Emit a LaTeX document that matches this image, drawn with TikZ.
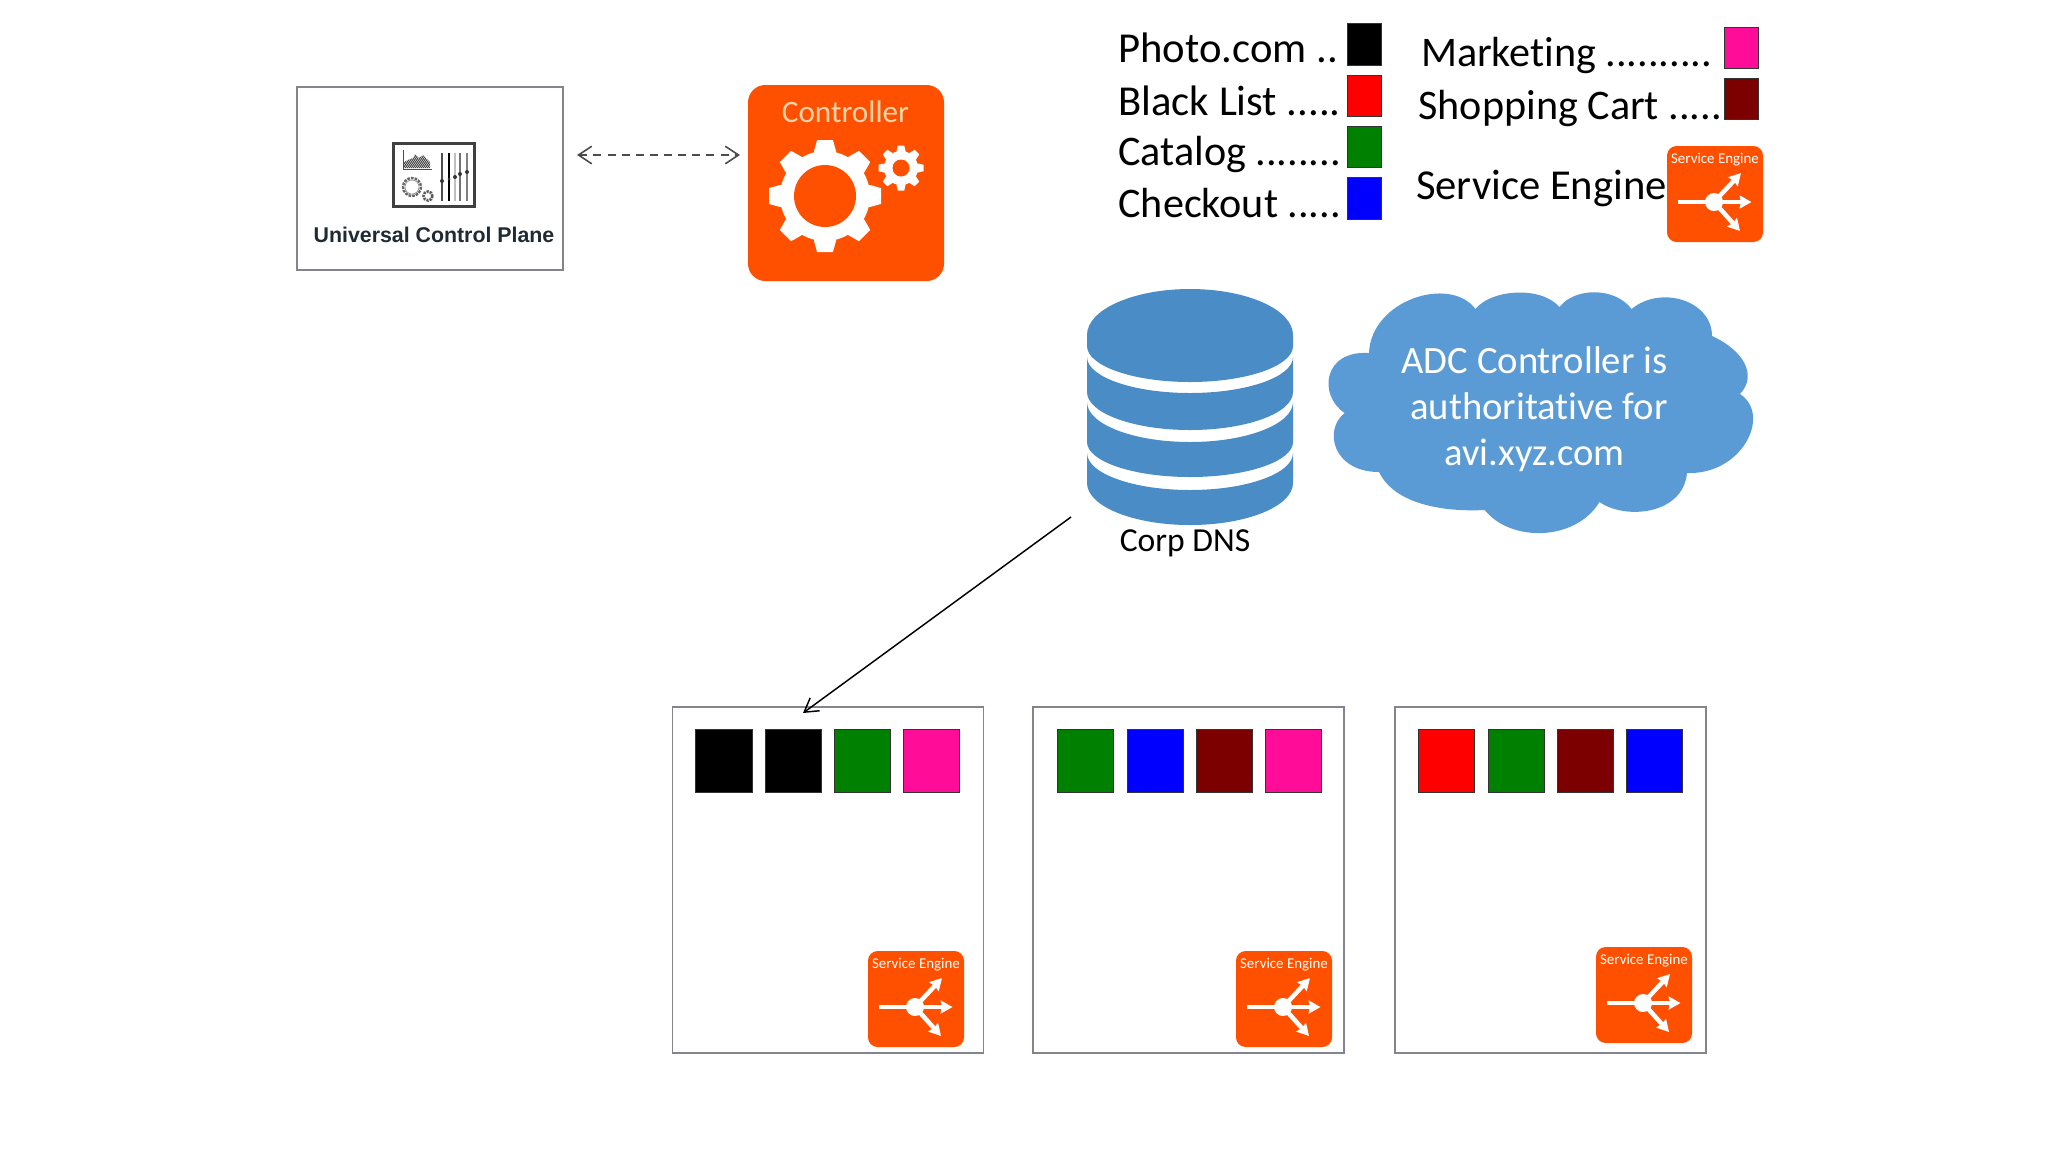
\documentclass[tikz,border=0pt]{standalone}
\usepackage{fontspec}
\setmainfont{Carlito}[Ligatures=NoCommon]
\newfontfamily\ucpfont{Liberation Sans}
\usetikzlibrary{arrows.meta,calc}
\definecolor{seorange}{HTML}{FF5000}
\definecolor{boxgray}{HTML}{84848E}
\definecolor{dnsblue}{HTML}{4A8CC6}
\definecolor{cloudblue}{HTML}{5B9BD5}
\definecolor{cgreen}{HTML}{008000}
\definecolor{cblue}{HTML}{0000FF}
\definecolor{cred}{HTML}{FF0000}
\definecolor{cmaroon}{HTML}{7D0000}
\definecolor{cpink}{HTML}{FF0C98}
\definecolor{ucpink}{HTML}{1F2A33}
\definecolor{ctrltext}{HTML}{FFD2A6}
% rectangular node from pixel corners: name, x0, y0, x1, y1, style
\newcommand{\pxnode}[6]{\node[#6,minimum width={(#4-#2)*0.375pt},minimum height={(#5-#3)*0.375pt}] (#1) at ({(#2+#4)/2},{(#3+#5)/2}) {};}
% gear: cx, cy, body radius, tip radius, tooth width, hole radius
\newcommand{\gearshape}[6]{%
  \foreach \a in {0,45,...,315}{
    \fill[white,rotate around={\a:(#1,#2)}] ({#1-#5/2},{#2}) -- ({#1-#5/2},{#2-#3}) -- ({#1-#5*0.36},{#2-#4}) -- ({#1+#5*0.36},{#2-#4}) -- ({#1+#5/2},{#2-#3}) -- ({#1+#5/2},{#2}) -- cycle;
  }
  \fill[white] (#1,#2) circle (#3);
  \fill[seorange] (#1,#2) circle (#6);
}
\tikzset{
  x=0.375pt,y=-0.375pt,
  base/.style={inner sep=0pt,outer sep=0pt},
  plainbox/.style={base,draw=boxgray,line width=0.5pt,fill=white},
  swatch/.style={base,draw=black!80,line width=0.3pt,fill=#1},
  ltext/.style={base,anchor=base west,font=\fontsize{15.8}{18}\selectfont},
  ltextb/.style={base,anchor=base west,font=\fontsize{16}{18}\selectfont},
  sebg/.style={base,fill=seorange,rounded corners=3.6pt,minimum width=36pt,minimum height=36pt},
  searrow/.style={white,line width=1.7pt,-{Stealth[length=4.4pt,width=4.8pt,inset=0.4pt]}},
  seicon/.pic={
    \node[sebg] (-bg) at (48,48) {};
    \node[base,anchor=base,text=white,font=\fontsize{5.6}{6}\selectfont] (-t) at (48,17) {Service Engine};
    \draw[searrow] (47,56) -- (84.5,56);
    \draw[searrow] (47,56) -- (74,27);
    \draw[searrow] (47,56) -- (73,85);
    \draw[white,line width=1.7pt] (11,56) -- (47,56);
    \fill[white] (47,56) circle (9);
  }
}
\begin{document}
\begin{tikzpicture}
\useasboundingbox (0,0) rectangle (2048,1152);
% Universal Control Plane
\pxnode{ucp}{297}{87}{563}{270}{plainbox}
\node[base,anchor=base,text=ucpink,font=\ucpfont\bfseries\fontsize{8}{10}\selectfont] (ucptext) at (434,242) {Universal Control Plane};
\pxnode{ucpicon}{393.5}{143.5}{474.5}{206.5}{base,draw=black!75,line width=0.8pt,fill=white}
\draw[black!70,line width=0.25pt] (403,150) -- (403,169) -- (432,169);
\begin{scope}
  \clip (404,168) -- (404,162) -- (408,160) -- (413,158) -- (415,154) -- (419,158) -- (423,155) -- (430,162) -- (430,168) -- cycle;
  \foreach \k in {0,2,...,36}{\draw[black!80,line width=0.35pt] ({400+\k},170) -- ({412+\k},152);}
\end{scope}
\draw[black!60,line width=0.9pt,dash pattern=on 1pt off 0.4pt] (412,187) circle (9);
\fill[white] (412,187) circle (7);
\draw[black!45,line width=0.25pt] (412,187) circle (7);
\draw[black!65,line width=1pt,dash pattern=on 0.8pt off 0.4pt] (428,196) circle (4.5);
\draw[black!70,line width=0.45pt] (442,153) -- (442,201);
\draw[black,line width=0.55pt] (449,153) -- (449,201);
\draw[black!25,line width=0.5pt] (455,153) -- (455,201);
\draw[black!55,line width=0.45pt] (460,153) -- (460,201);
\draw[black!50,line width=0.45pt] (467,153) -- (467,201);
\fill[black!80] (442,181) circle (2) (449,179) circle (1.5) (455,177) circle (2) (460,174) circle (2) (467,172) circle (2);
% Controller
\pxnode{ctrl}{748}{85}{944}{281}{base,fill=seorange,rounded corners=6.5pt}
\node[base,anchor=base,text=ctrltext,font=\fontsize{11.7}{13}\selectfont] (ctrltxt) at (845.5,122) {Controller};
\gearshape{825}{196}{45}{56}{22}{31}
\gearshape{901}{168}{17}{22.5}{9}{8.5}
\draw[{Straight Barb[length=5pt,width=6.6pt]}-{Straight Barb[length=5pt,width=6.6pt]},black!70,line width=0.6pt,dash pattern=on 3pt off 2.3pt,shorten <=5.25pt,shorten >=3pt] ([shift={(0,-23.5)}]ucp.east) -- ([shift={(0,-28)}]ctrl.west);
% Legend
\node[ltextb] (lphoto) at (1118.5,62) {Photo.com ..};
\node[ltextb] (lblack) at (1118.5,115) {Black List .....};
\node[ltext] (lcat) at (1118.5,165) {Catalog ........};
\node[ltext] (lcheck) at (1118.5,217) {Checkout .....};
\node[ltext] (lmark) at (1421,66) {Marketing ..........};
\node[ltext] (lshop) at (1418.5,119) {Shopping Cart .....};
\node[ltextb] (lse) at (1416,199) {Service Engine};
\pxnode{s1}{1347}{23}{1381.5}{65}{swatch=black}
\pxnode{s2}{1347}{75}{1381.5}{116}{swatch=cred}
\pxnode{s3}{1347}{126}{1381.5}{167}{swatch=cgreen}
\pxnode{s4}{1347}{177}{1381.5}{219}{swatch=cblue}
\pxnode{s5}{1724}{27}{1758}{68}{swatch=cpink}
\pxnode{s6}{1724}{78}{1758}{119}{swatch=cmaroon}
\pic (selegend) at (1667,146) {seicon};
% DNS cylinder
\pxnode{dns}{1087}{289}{1293}{525}{base}
\fill[dnsblue] (1087,335) arc[start angle=180,end angle=360,x radius=103,y radius=46] -- (1293,346) arc[start angle=0,end angle=180,x radius=103,y radius=36] -- cycle;
\fill[dnsblue] (1087,357) arc[start angle=180,end angle=0,x radius=103,y radius=36] -- (1293,392) arc[start angle=0,end angle=180,x radius=103,y radius=38] -- cycle;
\fill[dnsblue] (1087,402) arc[start angle=180,end angle=0,x radius=103,y radius=40] -- (1293,442) arc[start angle=0,end angle=180,x radius=103,y radius=35] -- cycle;
\fill[dnsblue] (1087,453) arc[start angle=180,end angle=0,x radius=103,y radius=37] -- (1293,483) arc[start angle=0,end angle=180,x radius=103,y radius=42] -- cycle;
\node[base,anchor=base,font=\fontsize{12.6}{14}\selectfont] (dnstext) at (1185,551) {Corp DNS};
% Cloud
\fill[cloudblue] (1369,353) .. controls (1371,300) and (1450,275) .. (1475.5,309)
  .. controls (1490,290) and (1540,285) .. (1559.5,307)
  .. controls (1575,287) and (1615,287) .. (1631.6,309)
  .. controls (1660,285) and (1712,300) .. (1712,336)
  .. controls (1743,350) and (1758,375) .. (1740,394)
  .. controls (1772,415) and (1742,475) .. (1687,473)
  .. controls (1683,515) and (1625,520) .. (1599.5,502)
  .. controls (1575,542) and (1510,542) .. (1484.7,510)
  .. controls (1445,512) and (1395,505) .. (1379,472)
  .. controls (1333,472) and (1323,430) .. (1344.6,413)
  .. controls (1318,395) and (1323,350) .. (1369,353) -- cycle;
\node[base,align=center,text=white,font=\fontsize{14.5}{17.25}\selectfont] (cloudtext) at (1539,409) {ADC Controller is\hspace*{3.4pt}\\authoritative for\\avi.xyz.com\hspace*{3.4pt}};
% Servers
\pxnode{b1}{672.5}{707}{983.5}{1053}{plainbox}
\pxnode{b2}{1033}{707}{1344}{1053}{plainbox}
\pxnode{b3}{1395}{707}{1706}{1053}{plainbox}
\pxnode{a1}{695}{729}{752}{792}{swatch=black}
\pxnode{a2}{765}{729}{821}{792}{swatch=black}
\pxnode{a3}{834}{729}{890}{792}{swatch=cgreen}
\pxnode{a4}{903}{729}{959.5}{792}{swatch=cpink}
\pxnode{c1}{1057.5}{729}{1113.5}{792}{swatch=cgreen}
\pxnode{c2}{1127}{729}{1183}{792}{swatch=cblue}
\pxnode{c3}{1196}{729}{1252}{792}{swatch=cmaroon}
\pxnode{c4}{1265}{729}{1321.5}{792}{swatch=cpink}
\pxnode{d1}{1418.5}{729}{1474.5}{792}{swatch=cred}
\pxnode{d2}{1488}{729}{1544}{792}{swatch=cgreen}
\pxnode{d3}{1557}{729}{1613}{792}{swatch=cmaroon}
\pxnode{d4}{1626}{729}{1682.5}{792}{swatch=cblue}
\pic (se1) at (868,951) {seicon};
\pic (se2) at (1236,951) {seicon};
\pic (se3) at (1596,947) {seicon};
% DNS arrow
\draw[-{Straight Barb[length=5pt,width=6pt]},black,line width=0.55pt] ([shift={(-16,-8)}]dns.south west) -- ([shift={(-25,6)}]b1.north);
\end{tikzpicture}
\end{document}
